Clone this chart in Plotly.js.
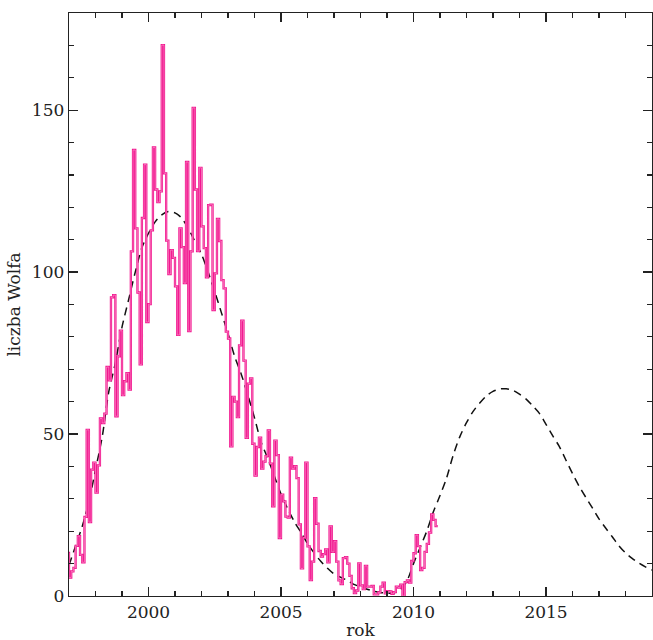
<!DOCTYPE html>
<html>
<head>
<meta charset="utf-8">
<script src="https://cdn.plot.ly/plotly-3.0.1.min.js"></script>
<style>html,body{margin:0;padding:0;background:#fff;}#chart{width:653px;height:640px;}</style>
</head>
<body>
<div id="chart"></div>
<script>
// Monthly Wolf numbers, first value = December 1996, one value per month
const firstYear = 1996;
const firstMonth = 12;
const wolfMonthly = [
  13.3,
  5.7, 7.6, 8.7, 15.5, 18.5, 12.7, 10.4, 24.4, 51.3, 22.8, 39.0, 41.2,
  31.9, 40.3, 54.8, 53.4, 56.3, 70.7, 66.6, 92.2, 92.9, 55.5, 74.0, 81.9,
  62.0, 66.3, 68.8, 63.7, 106.4, 137.7, 113.5, 93.7, 71.5, 116.7, 133.2, 84.6,
  90.1, 112.9, 138.5, 125.5, 121.6, 124.9, 170.1, 130.5, 109.7, 99.4, 106.8, 104.4,
  95.6, 80.6, 113.5, 107.7, 96.6, 134.0, 81.8, 106.4, 150.7, 125.5, 106.5, 132.2,
  114.1, 107.4, 98.4, 120.7, 120.8, 88.3, 99.6, 116.4, 109.6, 97.5, 95.0, 81.6,
  79.5, 46.2, 61.5, 60.0, 55.2, 77.4, 85.0, 72.7, 48.8, 65.6, 67.2, 47.0,
  37.2, 46.0, 48.9, 39.3, 41.5, 43.2, 51.1, 40.9, 27.7, 48.0, 43.5, 17.9,
  31.3, 29.2, 24.5, 24.2, 42.7, 39.3, 40.1, 36.4, 22.1, 8.5, 18.0, 41.2,
  15.3, 4.9, 10.6, 30.2, 22.3, 13.9, 12.2, 12.9, 14.4, 10.4, 21.5, 13.6,
  16.9, 10.6, 4.8, 3.7, 11.7, 12.0, 10.0, 6.2, 2.4, 0.9, 1.7, 10.1,
  3.3, 2.1, 9.3, 2.9, 2.9, 3.1, 0.5, 0.5, 1.1, 2.9, 4.1, 0.8,
  1.5, 1.4, 0.7, 1.2, 2.9, 2.6, 3.5, 0.0, 4.3, 4.8, 4.1, 10.8,
  13.2, 18.8, 15.4, 8.0, 8.7, 13.6, 16.1, 19.6, 25.2, 23.5, 21.6
];

// Fitted / predicted cycle curve (dashed)
const fitYears = [
  1997.0, 1997.25, 1997.5, 1997.75, 1998.0, 1998.25, 1998.5, 1998.75,
  1999.0, 1999.25, 1999.5, 1999.75, 2000.0, 2000.25, 2000.5, 2000.75,
  2001.0, 2001.25, 2001.5, 2001.75, 2002.0, 2002.25, 2002.5, 2002.75,
  2003.0, 2003.25, 2003.5, 2003.75, 2004.0, 2004.25, 2004.5, 2004.75,
  2005.0, 2005.25, 2005.5, 2005.75, 2006.0, 2006.25, 2006.5, 2006.75,
  2007.0, 2007.25, 2007.5, 2007.75, 2008.0, 2008.25, 2008.5, 2008.75,
  2009.0, 2009.25, 2009.5, 2009.75, 2010.0, 2010.25, 2010.5, 2010.75,
  2011.0, 2011.25, 2011.5, 2011.75, 2012.0, 2012.25, 2012.5, 2012.75,
  2013.0, 2013.25, 2013.5, 2013.75, 2014.0, 2014.25, 2014.5, 2014.75,
  2015.0, 2015.25, 2015.5, 2015.75, 2016.0, 2016.25, 2016.5, 2016.75,
  2017.0, 2017.25, 2017.5, 2017.75, 2018.0, 2018.25, 2018.5, 2018.75, 2019.0
];
const fitValues = [
  9.5, 15.5, 21.5, 29.0, 39.0, 49.0, 63.0, 72.0,
  83.0, 91.5, 100.0, 107.5, 112.0, 115.5, 117.7, 118.7,
  118.3, 116.7, 113.5, 109.5, 105.5, 100.0, 94.0, 87.5,
  81.0, 74.0, 68.5, 62.0, 55.0, 47.5, 42.5, 37.0,
  31.5, 27.0, 23.0, 19.7, 16.2, 13.3, 10.7, 8.6,
  6.8, 5.8, 4.8, 3.6, 2.8, 2.1, 1.5, 1.1,
  0.9, 0.9, 1.9, 4.6, 10.0, 15.0, 20.0, 26.0,
  31.0, 36.5, 43.5, 49.2, 53.5, 57.0, 59.6, 61.8,
  63.2, 63.9, 64.0, 63.5, 62.3, 60.8, 58.7, 56.4,
  53.0, 49.5, 46.2, 42.0, 37.8, 33.9, 30.5, 27.2,
  23.8, 21.0, 18.3, 15.5, 13.3, 11.6, 10.2, 9.0, 8.0
];

const xTickVals = [2000, 2005, 2010, 2015];
const yTickVals = [0, 50, 100, 150];
const xTitle = 'rok';
const yTitle = 'liczba Wolfa';

// month-start positions in decimal years, plus the end of the last month
const monthX = wolfMonthly.map((v, i) => firstYear + (firstMonth - 1 + i) / 12);
const stepX = monthX.concat([monthX[monthX.length - 1] + 1 / 12]);
const stepY = wolfMonthly.concat([wolfMonthly[wolfMonthly.length - 1]]);

const FONT = 'DejaVu Serif';
const FSIZE = 17;
const INK = '#222222';

const traces = [
  {
    x: fitYears, y: fitValues, type: 'scatter', mode: 'lines',
    line: {color: '#111111', width: 1.5, dash: '8px,5.5px', shape: 'spline', smoothing: 0.8},
    hoverinfo: 'skip', showlegend: false
  },
  {
    x: stepX, y: stepY, type: 'scatter', mode: 'lines',
    line: {color: '#f2168f', width: 2.3, shape: 'hv'},
    showlegend: false
  },
  {
    x: stepX, y: stepY, type: 'scatter', mode: 'lines',
    line: {color: '#fcbcdc', width: 0.5, shape: 'hv'},
    hoverinfo: 'skip', showlegend: false
  }
];

const axisCommon = {
  showline: true, linecolor: INK, linewidth: 1.3, mirror: 'allticks',
  ticks: 'inside', ticklen: 9, tickwidth: 1.3, tickcolor: INK,
  showgrid: false, zeroline: false,
  tickfont: {family: FONT, size: FSIZE, color: INK}
};

const layout = {
  width: 653, height: 640,
  margin: {l: 69, r: 1, t: 13, b: 44},
  paper_bgcolor: '#ffffff', plot_bgcolor: '#ffffff',
  showlegend: false,
  font: {family: FONT, size: FSIZE, color: INK},
  xaxis: Object.assign({}, axisCommon, {
    range: [1997, 2019], tickmode: 'array', tickvals: xTickVals,
    ticktext: xTickVals.map(String),
    minor: {ticks: 'inside', ticklen: 5, tickwidth: 1.2, tickcolor: INK, dtick: 1, tick0: 1997, showgrid: false},
    title: {text: xTitle, font: {family: FONT, size: FSIZE, color: INK}, standoff: 6}
  }),
  yaxis: Object.assign({}, axisCommon, {
    range: [0, 180], tickmode: 'array', tickvals: yTickVals,
    ticktext: yTickVals.map(String),
    minor: {ticks: 'inside', ticklen: 5, tickwidth: 1.2, tickcolor: INK, dtick: 10, tick0: 0, showgrid: false},
    title: {text: yTitle, font: {family: FONT, size: FSIZE, color: INK}, standoff: 7}
  })
};

Plotly.newPlot('chart', traces, layout, {displayModeBar: false, staticPlot: true});
</script>
</body>
</html>
